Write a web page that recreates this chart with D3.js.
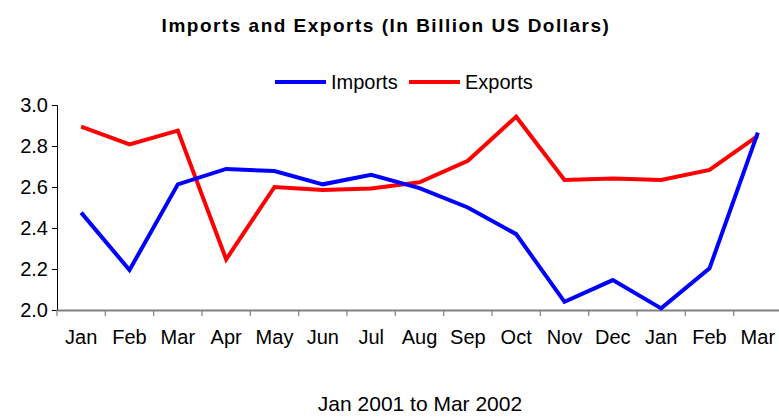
<!DOCTYPE html>
<html>
<head>
<meta charset="utf-8">
<script src="https://cdn.jsdelivr.net/npm/d3@7"></script>
<style>
  body { margin: 0; background: #fff; }
  text { font-family: "Liberation Sans", Arial, sans-serif; }
</style>
</head>
<body>
<script>

// data
var months = ["Jan","Feb","Mar","Apr","May","Jun","Jul","Aug","Sep","Oct","Nov","Dec","Jan","Feb","Mar"];
var imports = [2.475, 2.195, 2.613, 2.688, 2.678, 2.613, 2.66, 2.595, 2.50, 2.37, 2.04, 2.146, 2.008, 2.203, 2.865];
var exports = [2.894, 2.808, 2.875, 2.247, 2.60, 2.585, 2.593, 2.623, 2.728, 2.943, 2.634, 2.642, 2.634, 2.683, 2.849];
var yTicks = [2.0, 2.2, 2.4, 2.6, 2.8, 3.0];

var w = 779;
var h = 420;

var svg = d3.select("body")
  .append("svg")
  .attr("width", w)
  .attr("height", h);

// scales
var x = d3.scaleBand()
  .domain(d3.range(months.length))
  .range([57, 782]);

var y = d3.scaleLinear()
  .domain([2, 3])
  .range([310, 105]);

// title
svg.append("text")
  .attr("x", 386)
  .attr("y", 32)
  .attr("text-anchor", "middle")
  .style("font-size", "19px")
  .style("font-weight", "bold")
  .style("letter-spacing", "1.5px")
  .text("Imports and Exports (In Billion US Dollars)");

// y axis
var yAxis = svg.append("g")
  .attr("transform", "translate(57,0)")
  .call(d3.axisLeft(y).tickValues(yTicks).tickFormat(d3.format(".1f")).tickSize(5).tickPadding(4));
yAxis.select(".domain").attr("stroke", "#000");
yAxis.selectAll(".tick line").attr("stroke", "#000");
yAxis.selectAll("text").style("font-size", "20px").attr("fill", "#000");

// x axis
var xAxis = svg.append("g")
  .attr("transform", "translate(0,310)")
  .call(d3.axisBottom(x).tickFormat(function(i){ return months[i]; }).tickSize(0).tickPadding(20));
xAxis.select(".domain").attr("stroke", "#808080").attr("stroke-width", 2);
xAxis.selectAll("text").style("font-size", "20px").attr("fill", "#000");

// tick marks between categories
svg.append("g")
  .selectAll("line")
  .data(d3.range(months.length))
  .enter()
  .append("line")
  .attr("x1", function(i){ return x(i); })
  .attr("x2", function(i){ return x(i); })
  .attr("y1", 310)
  .attr("y2", 316)
  .attr("stroke", "#808080")
  .attr("stroke-width", 1.2);

// lines
var line = d3.line()
  .x(function(d, i){ return x(i) + x.bandwidth() / 2; })
  .y(function(d){ return y(d); });

svg.append("path")
  .datum(exports)
  .attr("d", line)
  .attr("fill", "none")
  .attr("stroke", "#ff0000")
  .attr("stroke-width", 4);

svg.append("path")
  .datum(imports)
  .attr("d", line)
  .attr("fill", "none")
  .attr("stroke", "#0000ff")
  .attr("stroke-width", 4);

// legend
var legend = [
  {name: "Imports", color: "#0000ff", x: 275},
  {name: "Exports", color: "#ff0000", x: 409}
];
var lg = svg.append("g")
  .selectAll("g")
  .data(legend)
  .enter()
  .append("g")
  .attr("transform", function(d){ return "translate(" + d.x + ",82)"; });
lg.append("line")
  .attr("x1", 0).attr("x2", 51)
  .attr("stroke", function(d){ return d.color; })
  .attr("stroke-width", 4);
lg.append("text")
  .attr("x", 56)
  .attr("y", 7)
  .style("font-size", "20px")
  .text(function(d){ return d.name; });

// bottom caption
svg.append("text")
  .attr("x", 420)
  .attr("y", 411)
  .attr("text-anchor", "middle")
  .style("font-size", "21px")
  .text("Jan 2001 to Mar 2002");

</script>
</body>
</html>
